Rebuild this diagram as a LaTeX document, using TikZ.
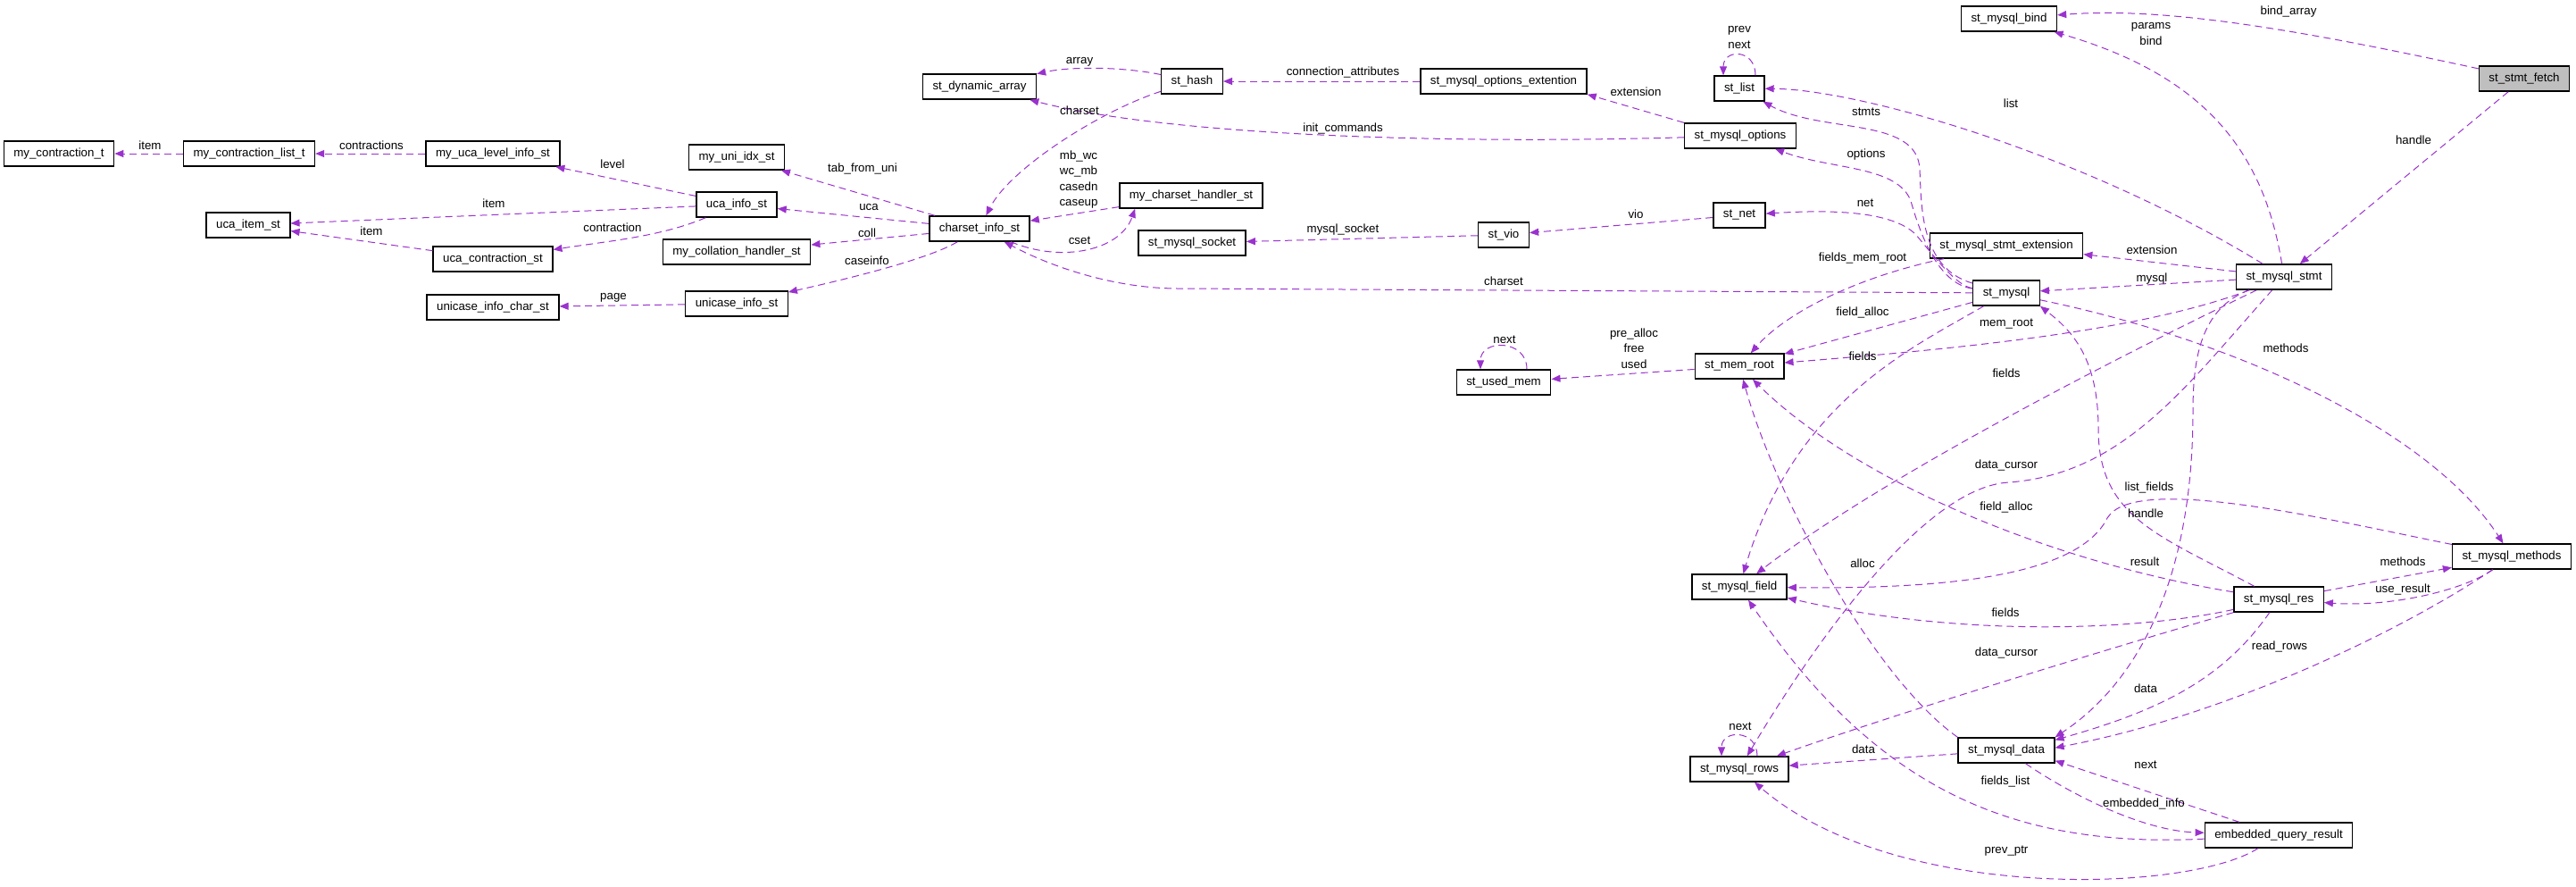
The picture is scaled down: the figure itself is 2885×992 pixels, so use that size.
\documentclass[tikz,border=0pt]{standalone}
\usepackage{fontspec}
\setmainfont{Liberation Sans}
\usetikzlibrary{arrows.meta,positioning}
\definecolor{edgepurple}{RGB}{154,50,205}
\definecolor{rootgray}{RGB}{191,191,191}

\begin{document}
\begin{tikzpicture}[x=0.5pt,y=-0.5pt,
cls/.style={draw,line width=0.7pt,inner xsep=5.5pt,inner ysep=0pt,minimum height=14pt,font=\fontsize{6.65}{8}\selectfont},
lbl/.style={inner sep=0pt,align=center,font=\fontsize{6.65}{8.8}\selectfont},
ptr/.style={draw=edgepurple,line width=0.5pt,dash pattern=on 4pt off 2.5pt,-{Triangle[length=5pt,width=4pt]}}]
\useasboundingbox (0,0) rectangle (2885,992);
\node[cls,fill=rootgray] (fetch) at (2827,88) {st\_stmt\_fetch};
\node[cls] (bind) at (2250,21) {st\_mysql\_bind};
\node[cls] (stmt) at (2558,310) {st\_mysql\_stmt};
\node[cls] (stmtext) at (2247,275) {st\_mysql\_stmt\_extension};
\node[cls] (mysql) at (2247,328) {st\_mysql};
\node[cls] (list) at (1948,99) {st\_list};
\node[cls] (opts) at (1949,152) {st\_mysql\_options};
\node[cls] (net) at (1948,241) {st\_net};
\node[cls] (memroot) at (1948,410) {st\_mem\_root};
\node[cls] (field) at (1948,657) {st\_mysql\_field};
\node[cls] (rows) at (1948,861) {st\_mysql\_rows};
\node[cls] (data) at (2247,840) {st\_mysql\_data};
\node[cls] (res) at (2552,671) {st\_mysql\_res};
\node[cls] (methods) at (2813,623) {st\_mysql\_methods};
\node[cls] (eqr) at (2552,935) {embedded\_query\_result};
\node[cls] (optext) at (1684,91) {st\_mysql\_options\_extention};
\node[cls] (vio) at (1684,263) {st\_vio};
\node[cls] (usedmem) at (1684,428) {st\_used\_mem};
\node[cls] (hash) at (1335,91) {st\_hash};
\node[cls] (cshandler) at (1334,219) {my\_charset\_handler\_st};
\node[cls] (socket) at (1335,272) {st\_mysql\_socket};
\node[cls] (dynarr) at (1097,97) {st\_dynamic\_array};
\node[cls] (csinfo) at (1097,256) {charset\_info\_st};
\node[cls] (uniidx) at (825,176) {my\_uni\_idx\_st};
\node[cls] (ucainfo) at (825,229) {uca\_info\_st};
\node[cls] (collhandler) at (825,282) {my\_collation\_handler\_st};
\node[cls] (unicase) at (825,340) {unicase\_info\_st};
\node[cls] (ucalevel) at (552,172) {my\_uca\_level\_info\_st};
\node[cls] (ucacontr) at (552,290) {uca\_contraction\_st};
\node[cls] (unicasechar) at (552,344) {unicase\_info\_char\_st};
\node[cls] (contrlist) at (279,172) {my\_contraction\_list\_t};
\node[cls] (ucaitem) at (278,252) {uca\_item\_st};
\node[cls] (contr) at (66,172) {my\_contraction\_t};

\draw[ptr] (fetch) .. controls (2560,30) and (2420,8) .. (bind);
\draw[ptr] (fetch) -- (stmt);
\draw[ptr] (stmt) .. controls (2535,170) and (2470,85) .. (bind);
\draw[ptr] (stmt) .. controls (2330,170) and (2080,100) .. (list);
\draw[ptr] (mysql) .. controls (2150,300) and (2152,230) .. (2150,190) .. controls (2148,130) and (2040,150) .. (list);
\draw[ptr] (mysql) .. controls (2170,318) and (2150,260) .. (2140,225) .. controls (2125,185) and (2050,190) .. (opts);
\draw[ptr] (mysql) .. controls (2190,320) and (2165,285) .. (2145,262) .. controls (2120,238) and (2060,234) .. (net);
\draw[ptr] (stmt) -- (stmtext);
\draw[ptr] (stmt) -- (mysql);
\draw[ptr] (mysql) -- (1320,323) .. controls (1250,323) and (1180,300) .. (csinfo);
\draw[ptr] (opts) .. controls (1600,162) and (1300,150) .. (dynarr);
\draw[ptr] (opts.north west) -- (optext.south east);
\draw[ptr] (optext) -- (hash);
\draw[ptr] (hash) .. controls (1260,75) and (1200,74) .. (dynarr);
\draw[ptr] (hash) .. controls (1230,125) and (1130,190) .. (csinfo);
\draw[ptr] (cshandler) -- (csinfo);
\draw[ptr] (csinfo) .. controls (1190,295) and (1255,280) .. ([xshift=9pt]cshandler.south west);
\draw[ptr] (csinfo) -- (uniidx);
\draw[ptr] (csinfo) -- (ucainfo);
\draw[ptr] (csinfo) -- (collhandler);
\draw[ptr] (csinfo) .. controls (1040,290) and (950,312) .. (unicase);
\draw[ptr] (ucainfo) -- (ucalevel);
\draw[ptr] (ucainfo) -- (ucaitem);
\draw[ptr] (ucainfo) .. controls (740,265) and (680,270) .. (ucacontr);
\draw[ptr] (ucacontr) -- (ucaitem);
\draw[ptr] (ucalevel) -- (contrlist);
\draw[ptr] (contrlist) -- (contr);
\draw[ptr] (unicase) -- (unicasechar);
\draw[ptr] (vio) -- (socket);
\draw[ptr] (net) -- (vio);
\draw[ptr] ([xshift=9pt]list.north) .. controls +(0,-30) and +(0,-30) .. ([xshift=-9pt]list.north);
\draw[ptr] (memroot) -- (usedmem);
\draw[ptr] ([xshift=13pt]usedmem.north) .. controls +(0,-34) and +(0,-34) .. ([xshift=-13pt]usedmem.north);
\draw[ptr] (mysql) -- (memroot);
\draw[ptr] (stmt) .. controls (2400,370) and (2200,390) .. (memroot);
\draw[ptr] (stmtext) .. controls (2080,310) and (2000,350) .. (memroot);
\draw[ptr] (mysql) .. controls (2140,390) and (2010,450) .. (field);
\draw[ptr] (stmt) .. controls (2350,410) and (2100,540) .. (field);
\draw[ptr] (stmt) .. controls (2450,430) and (2380,530) .. (2250,540) .. controls (2150,545) and (2020,740) .. (rows);
\draw[ptr] (stmt) .. controls (2465,345) and (2456,400) .. (2456,460) .. controls (2456,640) and (2400,760) .. (data.north east);
\draw[ptr] (res) .. controls (2300,630) and (2080,540) .. (memroot);
\draw[ptr] (data.north west) .. controls (2100,760) and (1990,560) .. (memroot);
\draw[ptr] (res) .. controls (2420,600) and (2350,580) .. (2350,480) .. controls (2350,400) and (2320,370) .. (mysql.south east);
\draw[ptr] (methods) .. controls (2600,580) and (2390,530) .. (2360,580) .. controls (2330,640) and (2200,660) .. (field);
\draw[ptr] (res) .. controls (2400,705) and (2200,715) .. (field);
\draw[ptr] (res) .. controls (2400,715) and (2150,790) .. (rows);
\draw[ptr] (res) -- (methods);
\draw[ptr] (methods) .. controls (2760,660) and (2680,680) .. (res);
\draw[ptr] (methods) .. controls (2700,700) and (2500,800) .. (data.3);
\draw[ptr] (res) .. controls (2490,760) and (2420,795) .. (data.12);
\draw[ptr] (mysql) .. controls (2500,380) and (2720,480) .. (methods);
\draw[ptr] (data) -- (rows);
\draw[ptr] ([xshift=10pt]rows.north) .. controls +(0,-30) and +(0,-30) .. ([xshift=-10pt]rows.north);
\draw[ptr] (eqr) .. controls (2450,1000) and (2120,1010) .. (rows);
\draw[ptr] (eqr) .. controls (2250,950) and (2100,880) .. (field);
\draw[ptr] (data) .. controls (2320,890) and (2400,930) .. (eqr);
\draw[ptr] (eqr) -- (data.-12);

\node[lbl] (l-bindarray) at (2563,13) {bind\_array};
\node[lbl] (l-params) at (2409,38) {params\\bind};
\node[lbl] (l-handle1) at (2703,157) {handle};
\node[lbl] (l-list) at (2252,116) {list};
\node[lbl] (l-prevnext) at (1948,42) {prev\\next};
\node[lbl] (l-stmts) at (2090,125) {stmts};
\node[lbl] (l-options) at (2090,173) {options};
\node[lbl] (l-net) at (2089,227) {net};
\node[lbl] (l-ext1) at (2410,280) {extension};
\node[lbl] (l-mysql) at (2410,312) {mysql};
\node[lbl] (l-fmr) at (2086,289) {fields\_mem\_root};
\node[lbl] (l-falloc1) at (2086,350) {field\_alloc};
\node[lbl] (l-fields1) at (2086,399) {fields};
\node[lbl] (l-memroot) at (2247,363) {mem\_root};
\node[lbl] (l-fields2) at (2247,418) {fields};
\node[lbl] (l-methods1) at (2560,390) {methods};
\node[lbl] (l-dcursor1) at (2247,521) {data\_cursor};
\node[lbl] (l-lfields) at (2407,546) {list\_fields};
\node[lbl] (l-handle2) at (2403,575) {handle};
\node[lbl] (l-falloc2) at (2247,568) {field\_alloc};
\node[lbl] (l-result) at (2402,629) {result};
\node[lbl] (l-alloc) at (2086,631) {alloc};
\node[lbl] (l-methods2) at (2691,629) {methods};
\node[lbl] (l-useres) at (2691,660) {use\_result};
\node[lbl] (l-fields3) at (2246,686) {fields};
\node[lbl] (l-readrows) at (2553,724) {read\_rows};
\node[lbl] (l-dcursor2) at (2247,731) {data\_cursor};
\node[lbl] (l-data1) at (2403,771) {data};
\node[lbl] (l-next2) at (1949,813) {next};
\node[lbl] (l-data2) at (2087,839) {data};
\node[lbl] (l-next3) at (2403,856) {next};
\node[lbl] (l-flist) at (2246,875) {fields\_list};
\node[lbl] (l-einfo) at (2401,900) {embedded\_info};
\node[lbl] (l-prevptr) at (2247,953) {prev\_ptr};
\node[lbl] (l-connattr) at (1504,81) {connection\_attributes};
\node[lbl] (l-array) at (1209,69) {array};
\node[lbl] (l-charset1) at (1209,124) {charset};
\node[lbl] (l-ext2) at (1832,103) {extension};
\node[lbl] (l-initcmd) at (1504,144) {init\_commands};
\node[lbl] (l-mbwc) at (1208,201) {mb\_wc\\wc\_mb\\casedn\\caseup};
\node[lbl] (l-cset) at (1209,269) {cset};
\node[lbl] (l-socket) at (1504,257) {mysql\_socket};
\node[lbl] (l-vio) at (1832,240) {vio};
\node[lbl] (l-charset2) at (1684,315) {charset};
\node[lbl] (l-next1) at (1685,380) {next};
\node[lbl] (l-prealloc) at (1830,390) {pre\_alloc\\free\\used};
\node[lbl] (l-tabuni) at (966,189) {tab\_from\_uni};
\node[lbl] (l-uca) at (973,232) {uca};
\node[lbl] (l-coll) at (971,261) {coll};
\node[lbl] (l-caseinfo) at (971,292) {caseinfo};
\node[lbl] (l-level) at (686,184) {level};
\node[lbl] (l-item1) at (553,228) {item};
\node[lbl] (l-contraction) at (686,255) {contraction};
\node[lbl] (l-item2) at (416,259) {item};
\node[lbl] (l-contractions) at (416,163) {contractions};
\node[lbl] (l-item3) at (168,163) {item};
\node[lbl] (l-page) at (687,333) {page};
\end{tikzpicture}
\end{document}
